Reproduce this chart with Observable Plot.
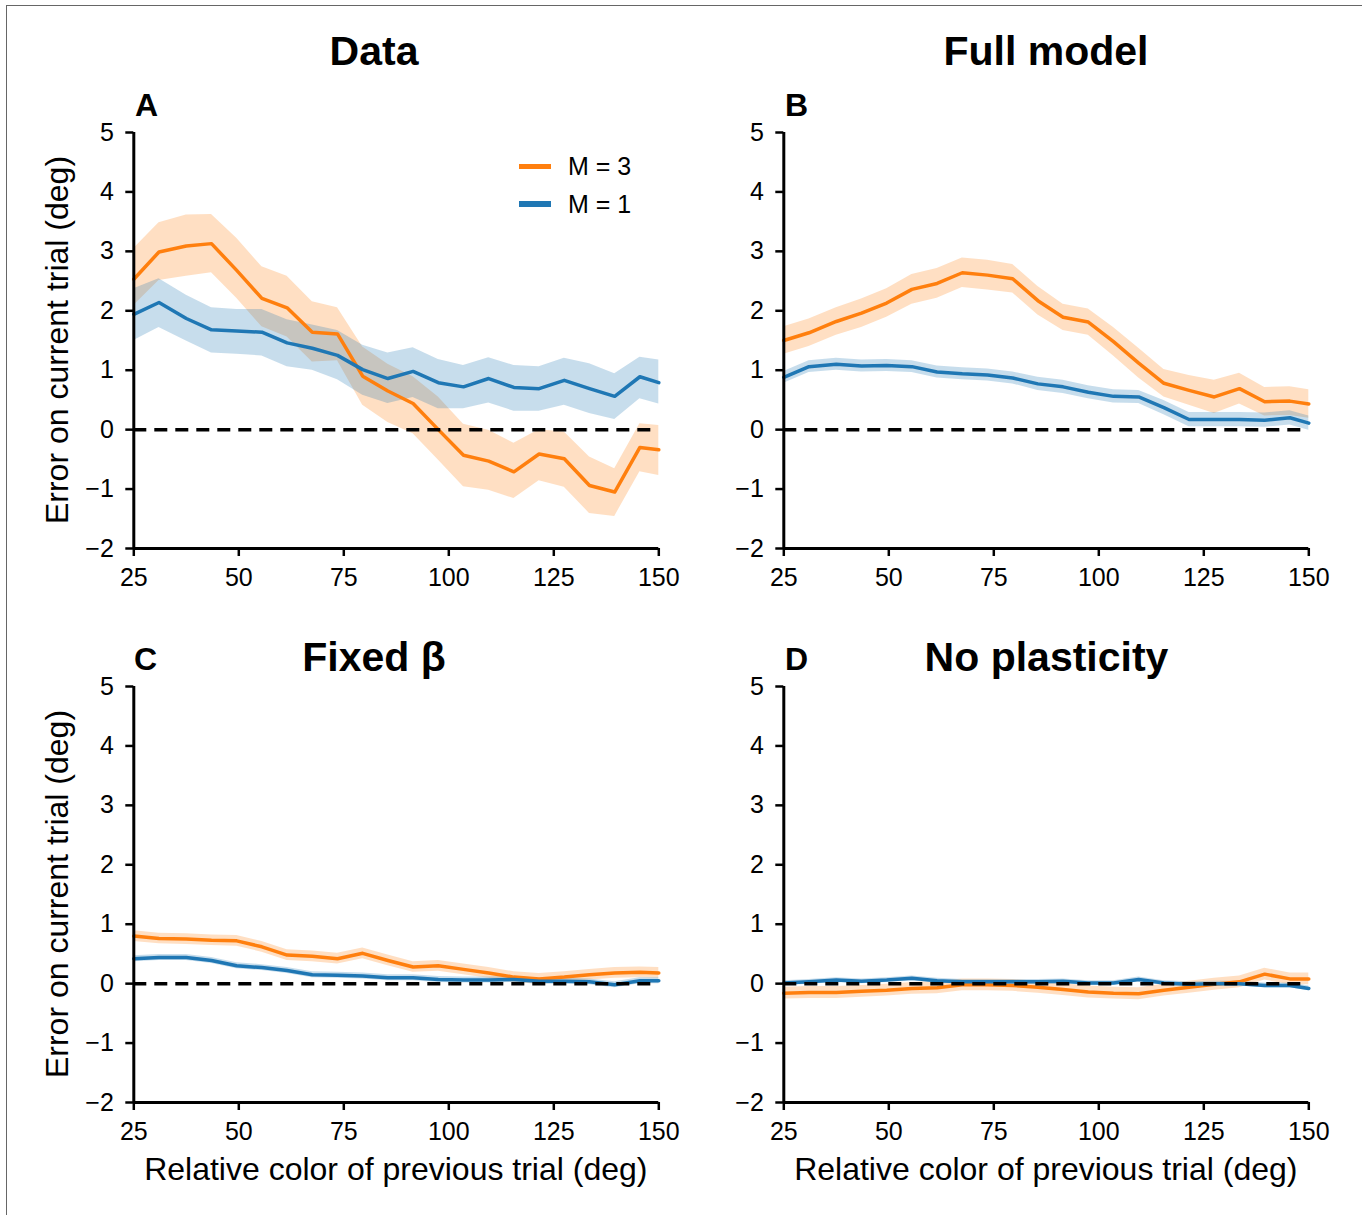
<!DOCTYPE html>
<html>
<head>
<meta charset="utf-8">
<script src="https://cdn.jsdelivr.net/npm/d3@7"></script>
<script src="https://cdn.jsdelivr.net/npm/@observablehq/plot@0.6"></script>
<style>
  body { margin: 0; background: #fff; }
  #fig { position: relative; width: 1362px; height: 1215px; overflow: hidden; background: #fff;
         font-family: "Liberation Sans", Arial, Helvetica, sans-serif; color: #000; }
  .t { position: absolute; line-height: 1; white-space: nowrap; }
  #border { position: absolute; left: 6px; top: 5px; width: 3000px; height: 3000px;
            border-left: 1px solid #666; border-top: 1px solid #666; }
</style>
</head>
<body>
<div id="fig"><div id="border"></div></div>
<script>
// ---------- data ----------
const X = [25, 31, 37.5, 43.5, 49.5, 55.5, 61.5, 67.5, 73.5, 79.5, 85.5, 91.5, 97.5, 103.5, 109.5, 115.5, 121.5, 127.5, 133.5, 139.5, 145.5, 150];
const xTicks = [25, 50, 75, 100, 125, 150];
const yTicks = [-2, -1, 0, 1, 2, 3, 4, 5];
const seriesNames = ["M = 3", "M = 1"];
const seriesColors = ["#ff7f0e", "#1f77b4"];
const panelTitles = ["Data", "Full model", "Fixed β", "No plasticity"];
const panelLetters = ["A", "B", "C", "D"];

// Panel A: Data
const A_m3 = [2.53, 2.99, 3.09, 3.13, 2.68, 2.21, 2.05, 1.64, 1.61, 0.90, 0.65, 0.44, 0.00, -0.43, -0.53, -0.71, -0.41, -0.49, -0.94, -1.05, -0.30, -0.34];
const A_m3_hi = [3.05, 3.48, 3.61, 3.62, 3.22, 2.74, 2.58, 2.15, 2.05, 1.39, 1.10, 0.89, 0.55, 0.09, -0.01, -0.23, 0.00, -0.04, -0.46, -0.66, 0.10, 0.07];
const A_m3_lo = [2.09, 2.51, 2.58, 2.64, 2.21, 1.73, 1.56, 1.14, 1.16, 0.41, 0.12, -0.07, -0.51, -0.96, -1.02, -1.16, -0.86, -0.97, -1.41, -1.46, -0.71, -0.77];
const A_m1 = [1.94, 2.14, 1.87, 1.68, 1.66, 1.64, 1.46, 1.37, 1.25, 1.01, 0.86, 0.98, 0.79, 0.72, 0.86, 0.71, 0.69, 0.83, 0.69, 0.56, 0.89, 0.79];
const A_m1_hi = [2.37, 2.54, 2.26, 2.05, 2.02, 2.02, 1.85, 1.76, 1.67, 1.42, 1.29, 1.38, 1.18, 1.08, 1.21, 1.08, 1.06, 1.20, 1.11, 0.94, 1.22, 1.17];
const A_m1_lo = [1.50, 1.72, 1.49, 1.29, 1.27, 1.24, 1.06, 1.00, 0.84, 0.58, 0.44, 0.54, 0.35, 0.35, 0.45, 0.31, 0.31, 0.41, 0.27, 0.17, 0.52, 0.43];

// Panel B: Full model
const B_m3 = [1.50, 1.63, 1.82, 1.96, 2.13, 2.36, 2.46, 2.64, 2.60, 2.54, 2.17, 1.89, 1.81, 1.48, 1.12, 0.78, 0.66, 0.55, 0.69, 0.47, 0.48, 0.43];
const B_m3_err = [0.23, 0.23, 0.23, 0.24, 0.24, 0.25, 0.25, 0.25, 0.25, 0.24, 0.24, 0.22, 0.22, 0.24, 0.25, 0.23, 0.25, 0.28, 0.26, 0.24, 0.24, 0.24];
const B_m1 = [0.88, 1.06, 1.10, 1.07, 1.08, 1.06, 0.97, 0.94, 0.92, 0.87, 0.77, 0.72, 0.63, 0.56, 0.55, 0.37, 0.17, 0.17, 0.17, 0.16, 0.20, 0.11];
const B_m1_err = [0.10, 0.10, 0.10, 0.10, 0.10, 0.10, 0.10, 0.10, 0.10, 0.10, 0.11, 0.11, 0.11, 0.11, 0.11, 0.12, 0.12, 0.12, 0.12, 0.12, 0.12, 0.12];

// Panel C: Fixed beta
const C_m3 = [0.80, 0.76, 0.75, 0.73, 0.72, 0.62, 0.48, 0.46, 0.42, 0.51, 0.39, 0.28, 0.30, 0.24, 0.18, 0.11, 0.08, 0.11, 0.15, 0.18, 0.19, 0.18];
const C_m3_err = [0.09, 0.09, 0.09, 0.09, 0.09, 0.09, 0.09, 0.09, 0.09, 0.09, 0.09, 0.09, 0.09, 0.09, 0.09, 0.09, 0.09, 0.09, 0.09, 0.09, 0.09, 0.09];
const C_m1 = [0.42, 0.44, 0.44, 0.39, 0.30, 0.27, 0.22, 0.15, 0.14, 0.13, 0.10, 0.10, 0.07, 0.06, 0.06, 0.07, 0.04, 0.04, 0.03, -0.02, 0.05, 0.05];
const C_m1_err = [0.05, 0.05, 0.05, 0.05, 0.05, 0.05, 0.05, 0.05, 0.05, 0.05, 0.05, 0.05, 0.05, 0.05, 0.05, 0.05, 0.05, 0.05, 0.05, 0.05, 0.05, 0.05];

// Panel D: No plasticity
const D_m3 = [-0.16, -0.15, -0.15, -0.13, -0.11, -0.08, -0.07, -0.02, -0.02, -0.03, -0.06, -0.10, -0.14, -0.16, -0.17, -0.11, -0.06, -0.01, 0.03, 0.16, 0.08, 0.08];
const D_m3_err = [0.10, 0.10, 0.10, 0.10, 0.10, 0.10, 0.10, 0.10, 0.10, 0.10, 0.10, 0.10, 0.10, 0.10, 0.10, 0.10, 0.10, 0.10, 0.10, 0.10, 0.10, 0.10];
const D_m1 = [0.01, 0.03, 0.06, 0.04, 0.06, 0.09, 0.05, 0.03, 0.03, 0.03, 0.03, 0.04, 0.01, 0.01, 0.07, 0.01, -0.01, 0.00, 0.00, -0.03, -0.03, -0.08];
const D_m1_err = [0.04, 0.04, 0.04, 0.04, 0.04, 0.04, 0.04, 0.04, 0.04, 0.04, 0.04, 0.04, 0.04, 0.04, 0.04, 0.04, 0.04, 0.04, 0.04, 0.04, 0.04, 0.04];

// ---------- build tables ----------
function table(mean, lo, hi) {
  return X.map((x, i) => ({x, mean: mean[i], lo: lo[i], hi: hi[i]}));
}
function tableErr(mean, err) {
  return X.map((x, i) => ({x, mean: mean[i], lo: mean[i] - err[i], hi: mean[i] + err[i]}));
}
const panels = [
  [table(A_m3, A_m3_lo, A_m3_hi), table(A_m1, A_m1_lo, A_m1_hi)],
  [tableErr(B_m3, B_m3_err), tableErr(B_m1, B_m1_err)],
  [tableErr(C_m3, C_m3_err), tableErr(C_m1, C_m1_err)],
  [tableErr(D_m3, D_m3_err), tableErr(D_m1, D_m1_err)]
];

const fmt = d => (d < 0 ? "\u2212" + Math.abs(d) : String(d));
const FONT = '"Liberation Sans", Arial, Helvetica, sans-serif';

function makePanel(series) {
  return Plot.plot({
    width: 690, height: 546,
    marginLeft: 133.3, marginRight: 31.7, marginTop: 80, marginBottom: 50,
    x: {domain: [25, 150]},
    y: {domain: [-2, 5]},
    style: {background: "transparent", fontFamily: FONT, color: "black", overflow: "visible"},
    marks: [
      ...series.map((s, i) => Plot.areaY(s, {x: "x", y1: "lo", y2: "hi", fill: seriesColors[i], fillOpacity: 0.25})),
      ...series.map((s, i) => Plot.lineY(s, {x: "x", y: "mean", stroke: seriesColors[i], strokeWidth: 3.5})),
      Plot.ruleY([0], {stroke: "black", strokeWidth: 3.5, strokeDasharray: "13,8"}),
      Plot.ruleX([25], {stroke: "black", strokeWidth: 3}),
      Plot.ruleY([-2], {stroke: "black", strokeWidth: 3}),
      Plot.axisX({ticks: xTicks, tickFormat: fmt, tickSize: 8, tickPadding: 12, fontSize: 25, strokeWidth: 2.5, label: null}),
      Plot.axisY({ticks: yTicks, tickFormat: fmt, tickSize: 8, tickPadding: 12, fontSize: 25, strokeWidth: 2.5, label: null})
    ]
  });
}

const fig = document.getElementById("fig");
const pos = [[0, 52.3], [650, 52.3], [0, 606.3], [650, 606.3]];
panels.forEach((series, k) => {
  const svg = makePanel(series);
  svg.style.position = "absolute";
  svg.style.left = pos[k][0] + "px";
  svg.style.top = pos[k][1] + "px";
  fig.appendChild(svg);
});

// ---------- text ----------
function addText(str, x, baseline, size, opts = {}) {
  const d = document.createElement("div");
  d.className = "t";
  d.textContent = str;
  d.style.fontSize = size + "px";
  d.style.fontWeight = opts.bold ? "bold" : "normal";
  d.style.top = (baseline - 0.8465 * size) + "px";
  if (opts.anchor === "middle") {
    d.style.left = (x - 1000) + "px";
    d.style.width = "2000px";
    d.style.textAlign = "center";
  } else {
    d.style.left = x + "px";
  }
  fig.appendChild(d);
  return d;
}
// titles
addText(panelTitles[0], 374, 66, 41, {bold: true, anchor: "middle"});
addText(panelTitles[1], 1046, 66, 41, {bold: true, anchor: "middle"});
addText(panelTitles[2], 374, 672, 41, {bold: true, anchor: "middle"});
addText(panelTitles[3], 1046.5, 672, 41, {bold: true, anchor: "middle"});
// panel letters
addText(panelLetters[0], 135, 116, 32, {bold: true});
addText(panelLetters[1], 785, 116, 32, {bold: true});
addText(panelLetters[2], 134, 670, 32, {bold: true});
addText(panelLetters[3], 785, 670, 32, {bold: true});
// x labels
addText("Relative color of previous trial (deg)", 395.8, 1180, 32, {anchor: "middle"});
addText("Relative color of previous trial (deg)", 1045.8, 1180, 32, {anchor: "middle"});
// y labels (rotated)
function addYLabel(str, cy) {
  const size = 32;
  const cx = 68 - 0.3465 * size;
  const d = document.createElement("div");
  d.className = "t";
  d.textContent = str;
  d.style.fontSize = size + "px";
  d.style.width = "600px";
  d.style.textAlign = "center";
  d.style.left = (cx - 300) + "px";
  d.style.top = (cy - size / 2) + "px";
  d.style.transform = "rotate(-90deg)";
  fig.appendChild(d);
}
addYLabel("Error on current trial (deg)", 340.3);
addYLabel("Error on current trial (deg)", 894.2);

// legend (panel A)
function addLegend(i, yc) {
  const sw = document.createElement("div");
  sw.style.position = "absolute";
  sw.style.left = "519px";
  sw.style.width = "32px";
  sw.style.top = (yc - 2.75) + "px";
  sw.style.height = "5.5px";
  sw.style.background = seriesColors[i];
  fig.appendChild(sw);
  addText(seriesNames[i], 568, yc + 9, 25);
}
addLegend(0, 166.5);
addLegend(1, 204);
</script>
</body>
</html>
